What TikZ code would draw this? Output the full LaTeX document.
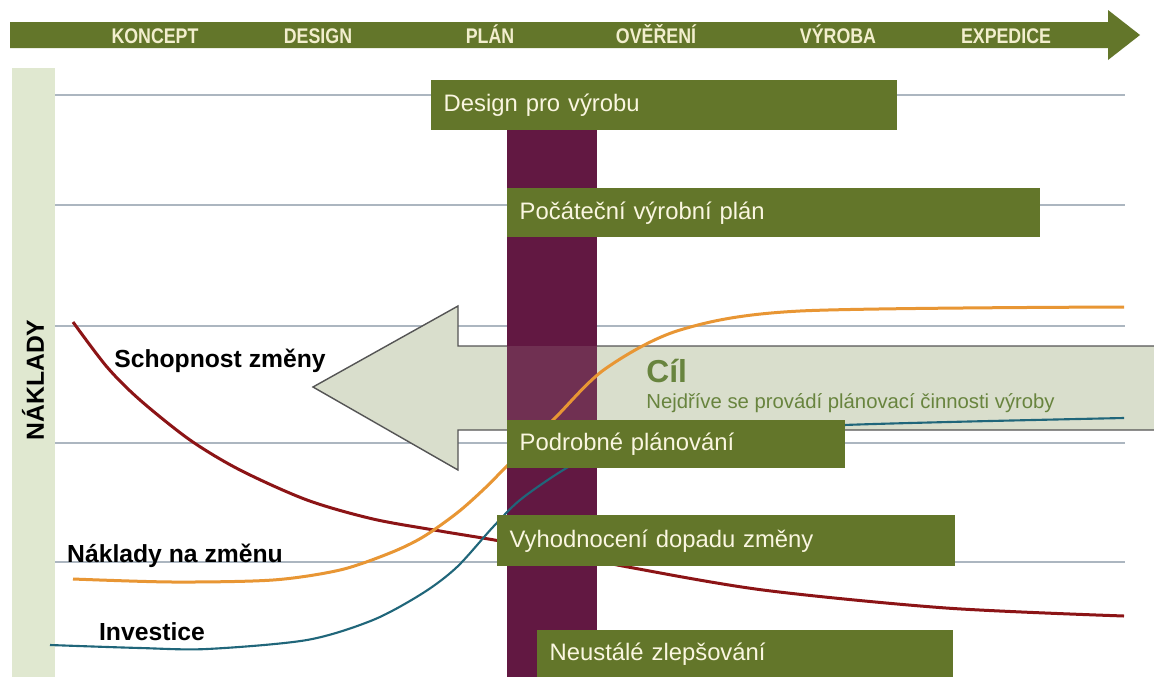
\documentclass[tikz,border=0pt]{standalone}
\usepackage{fontspec}
\setmainfont{Liberation Sans}
\newfontfamily\narrowfont[FakeStretch=0.84]{Liberation Sans}
\usetikzlibrary{
  arrows.meta,
  positioning
}
\definecolor{bandgreen}{RGB}{99,118,42}
\definecolor{phasetext}{RGB}{242,238,205}
\definecolor{leftbar}{RGB}{224,232,208}
\definecolor{gridcolor}{RGB}{172,182,192}
\definecolor{planbar}{RGB}{98,24,66}
\definecolor{goalfill}{RGB}{217,222,204}
\definecolor{goalline}{RGB}{85,85,85}
\definecolor{goaltext}{RGB}{104,132,62}
\definecolor{changecolor}{RGB}{140,20,22}
\definecolor{costcolor}{RGB}{232,150,52}
\definecolor{investcolor}{RGB}{32,102,122}
\definecolor{boxtext}{RGB}{250,246,224}

\begin{document}
\begin{tikzpicture}[x=0.5667pt, y=-0.5667pt, font=\normalsize]

  \fill[white] (0,0) rectangle (1154,677);
  \useasboundingbox (0,0) rectangle (1154,677);

  \tikzset{
    phase/.style={font=\narrowfont\bfseries\fontsize{12}{14}\selectfont,
                  text=phasetext, inner sep=0pt, anchor=base},
    curvelabel/.style={font=\bfseries\fontsize{14}{16}\selectfont, inner sep=1pt},
    taskbox/.style={fill=bandgreen, text=boxtext, anchor=north west,
                    inner xsep=7pt, align=left,
                    font=\fontsize{13.5}{15}\selectfont}
  }

  % Timeline arrow on top
  \fill[bandgreen] (10,22) -- (1108,22) -- (1108,10) -- (1140,35)
    -- (1108,60) -- (1108,48) -- (10,48) -- cycle;
  \node[phase] (koncept)  at (155,43)  {KONCEPT};
  \node[phase] (design)   at (318,43)  {DESIGN};
  \node[phase] (plan)     at (490,43)  {PLÁN};
  \node[phase] (overeni)  at (656,43)  {OVĚŘENÍ};
  \node[phase] (vyroba)   at (838,43)  {VÝROBA};
  \node[phase] (expedice) at (1006,43) {EXPEDICE};

  % Cost axis on the left
  \fill[leftbar] (12,68) rectangle (55,677);
  \node[font=\bfseries\fontsize{14}{16}\selectfont, rotate=90] (naklady)
    at (33,380) {NÁKLADY};

  % Grid lines
  \draw[gridcolor, line width=0.8pt] (55,95)  -- (1125,95);
  \draw[gridcolor, line width=0.8pt] (55,205) -- (1125,205);
  \draw[gridcolor, line width=0.8pt] (55,326) -- (1125,326);
  \draw[gridcolor, line width=0.8pt] (55,443) -- (1125,443);
  \draw[gridcolor, line width=0.8pt] (55,562) -- (1125,562);

  % Goal arrow (pointing left)
  \fill[goalfill] (1154,346) -- (458,346) -- (458,306)
    -- (313,387) -- (458,470) -- (458,430) -- (1154,430) -- cycle;
  \draw[goalline, line width=0.8pt] (1154,346) -- (458,346) -- (458,306)
    -- (313,387) -- (458,470) -- (458,430) -- (1154,430);

  % Planning bar, the arrow shaft shows faintly over it
  \fill[planbar] (507,128) rectangle (597,677);
  \fill[goalfill, fill opacity=0.12] (507,346) rectangle (597,430);

  \node[anchor=west, inner sep=0, text=goaltext,
        font=\bfseries\fontsize{18}{20}\selectfont] (cil) at (646,371) {Cíl};
  \node[anchor=west, inner sep=0, text=goaltext,
        font=\fontsize{11.5}{13}\selectfont] (cilnote) at (646,403)
    {Nejdříve se provádí plánovací činnosti výroby};

  % Curves
  \draw[changecolor, line width=1.7pt] plot[smooth] coordinates {
    (73,322) (107,367) (140,400) (190,440) (240,470) (307,500)
    (373,519) (440,531) (500,541) (560,553) (628,567) (763,590)
    (946,608) (1124,616)};
  \draw[costcolor, line width=1.7pt] plot[smooth] coordinates {
    (73,579) (173,582) (273,580) (340,570) (390,553) (423,537)
    (457,513) (483,490) (507,466) (555,418) (605,369) (680,330)
    (800,311) (1124,307)};
  \draw[investcolor, line width=1.2pt] plot[smooth] coordinates {
    (50,645) (140,648) (207,649) (307,640) (373,620) (423,593)
    (457,567) (493,527) (520,500) (560,472) (600,450) (650,436)
    (844,425) (1124,418)};

  \node[curvelabel] (schopnost) at (220,361) {Schopnost změny};
  \node[curvelabel] (naklzmena) at (175,556) {Náklady na změnu};
  \node[curvelabel] (investice) at (152,632) {Investice};

  % Activity boxes
  \node[taskbox, text width=250.1pt, minimum height=28.3pt] (dfm)
    at (431,80) {Design pro výrobu};
  \node[taskbox, text width=288.0pt, minimum height=27.8pt] (initplan)
    at (507,188) {Počáteční výrobní plán};
  \node[taskbox, text width=177.5pt, minimum height=27.2pt] (detailplan)
    at (507,420) {Podrobné plánování};
  \node[taskbox, text width=245.6pt, minimum height=28.9pt] (impact)
    at (497,515) {Vyhodnocení dopadu změny};
  \node[taskbox, text width=221.7pt, minimum height=26.6pt] (kaizen)
    at (537,630) {Neustálé zlepšování};

\end{tikzpicture}
\end{document}
